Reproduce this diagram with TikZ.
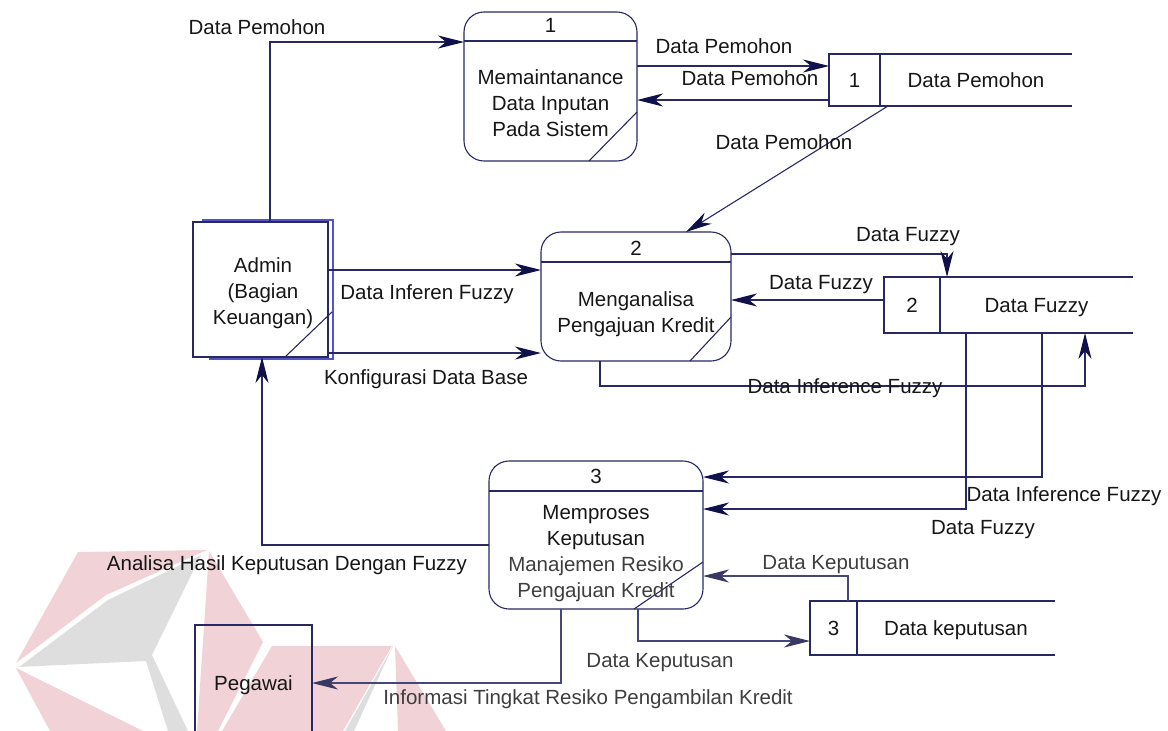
\documentclass[tikz,border=0pt]{standalone}
\usepackage{fontspec}
\setmainfont{Liberation Sans}
\usetikzlibrary{arrows.meta,calc}
\definecolor{dfdline}{RGB}{40,40,100}
\definecolor{dfdsoft}{RGB}{70,70,122}
\definecolor{dfdhead}{RGB}{16,16,74}
\definecolor{shadowblue}{RGB}{84,84,196}
\definecolor{txt}{RGB}{22,22,22}
\definecolor{txtsoft}{RGB}{62,62,62}
\definecolor{logopink}{RGB}{241,210,215}
\definecolor{logogray}{RGB}{222,222,222}
\begin{document}
\begin{tikzpicture}[x=1pt,y=-1pt,
  every node/.style={font=\fontsize{20.5}{26}\selectfont, text=txt, inner sep=0pt, outer sep=0pt},
  lbl/.style={text height=15pt, text depth=0pt},
  edge/.style={draw=dfdline, line width=1.1pt},
  proc/.style={edge, rounded corners=20pt},
  ent/.style={edge},
  sid/.style={edge, lbl},
  sname/.style={lbl},
  shadowline/.style={draw=shadowblue, line width=1.1pt},
  flow/.style={edge, -{Stealth[length=26pt,width=13pt,inset=8pt,color=dfdhead]}},
  softflow/.style={draw=dfdsoft, line width=1.1pt, -{Stealth[length=26pt,width=13pt,inset=8pt,color=dfdsoft!80!black]}}
]
\useasboundingbox (0,0) rectangle (1168,731);
\clip (0,0) rectangle (1168,731);

% faint logo in the background
\fill[logopink] (16,663) -- (78,552) -- (207,550) -- (106,595) -- cycle;
\fill[logopink] (209,551) -- (263,642) -- (218,731) -- (197,731) -- cycle;
\fill[logopink] (16,668) -- (50,731) -- (143,731) -- cycle;
\fill[logogray] (19,667) -- (108,600) -- (201,555) -- (152,655) -- (188,731) -- (168,731) -- (146,661) -- cycle;
\fill[logopink] (272,646) -- (392,646) -- (343,731) -- (222,731) -- cycle;
\fill[logogray] (393,646) -- (345,731) -- (354,731) -- cycle;
\fill[logopink] (395,646) -- (398,731) -- (446,731) -- cycle;

% processes
\node[proc, minimum width=173pt, minimum height=149pt] (p1) at (550.5,86.5) {};
\node[proc, minimum width=190pt, minimum height=129pt] (p2) at (636,296.5) {};
\node[proc, minimum width=214pt, minimum height=148pt] (p3) at (596,535) {};
\draw[edge] ($(p1.north west)+(0,29)$) -- ($(p1.north east)+(0,29)$);
\draw[edge] ($(p2.north west)+(0,30)$) -- ($(p2.north east)+(0,30)$);
\draw[edge] ($(p3.north west)+(0,30)$) -- ($(p3.north east)+(0,30)$);
\draw[edge] ($(p1.south east)+(0,-49)$) -- ($(p1.south east)+(-48,0)$);
\draw[edge] ($(p2.south east)+(0,-44)$) -- ($(p2.south east)+(-41,0)$);
\draw[edge] ($(p3.south east)+(0,-47)$) -- ($(p3.south east)+(-69,0)$);
\node[lbl] (p1num) at (550.5,25) {1};
\node[lbl] (p2num) at (636,248) {2};
\node[lbl] (p3num) at (596,476) {3};
\node[align=center] (p1txt) at (550.5,103) {Memaintanance\\Data Inputan\\Pada Sistem};
\node[align=center] (p2txt) at (636,314.5) {Menganalisa\\Pengajuan Kredit};
\node[align=center] (p3txt) at (596,553.5) {Memproses\\Keputusan\\\textcolor{txtsoft}{Manajemen Resiko}\\\textcolor{txtsoft}{Pengajuan Kredit}};

% external entities
\draw[shadowline] (202,220) -- (333,220) -- (333,359) -- (209,359);
\node[ent, minimum width=135pt, minimum height=135pt] (adm) at (260.5,289.5) {};
\draw[edge] ($(adm.south east)+(4,-45)$) -- ($(adm.south east)+(-43,0)$);
\node[align=center] (admtxt) at (263,293) {Admin\\(Bagian\\Keuangan)};
\node[ent, lbl, minimum width=117pt, minimum height=116pt] (peg) at (253.5,683) {Pegawai};

% data stores
\node[sid, minimum width=51pt, minimum height=52pt] (s1) at (854.5,80) {1};
\node[sname, minimum width=192pt, minimum height=52pt] (s1n) at (976,80) {Data Pemohon};
\draw[edge] (s1.north east) -- (s1n.north east);
\draw[edge] (s1.south east) -- (s1n.south east);
\node[sid, minimum width=56pt, minimum height=56pt] (s2) at (912,305) {2};
\node[sname, minimum width=193pt, minimum height=56pt] (s2n) at (1036.5,305) {Data Fuzzy};
\draw[edge] (s2.north east) -- (s2n.north east);
\draw[edge] (s2.south east) -- (s2n.south east);
\node[sid, minimum width=47pt, minimum height=54pt] (s3) at (833.5,628) {3};
\node[sname, minimum width=198pt, minimum height=54pt] (s3n) at (956,628) {Data keputusan};
\draw[edge] (s3.north east) -- (s3n.north east);
\draw[edge] (s3.south east) -- (s3n.south east);

% data flows
\coordinate (wA) at (270,42);
\draw[flow] (adm.north -| wA) |- (p1.west |- wA);
\coordinate (wB) at (0,66);
\draw[flow] (p1.east |- wB) -- (s1.west |- wB);
\coordinate (wC) at (0,100);
\draw[flow] (s1.west |- wC) -- (p1.east |- wC);
\coordinate (wD1) at (888,0);
\coordinate (wD2) at (686,0);
\draw[flow] (s1n.south -| wD1) -- (p2.north -| wD2);
\coordinate (wE) at (0,270);
\draw[flow] (adm.east |- wE) -- (p2.west |- wE);
\coordinate (wF) at (0,353);
\draw[flow] (adm.east |- wF) -- (p2.west |- wF);
\coordinate (wG) at (947,254);
\draw[flow] (p2.east |- wG) -| (s2n.north -| wG);
\coordinate (wH) at (0,300);
\draw[flow] (s2.west |- wH) -- (p2.east |- wH);
\coordinate (wI1) at (600,386);
\coordinate (wI2) at (1085,386);
\draw[flow] (p2.south -| wI1) |- (wI2) -- (s2n.south -| wI2);
\coordinate (wJ) at (1042,477);
\draw[flow] (s2n.south -| wJ) |- (p3.east |- wJ);
\coordinate (wK) at (966,509);
\draw[flow] (s2n.south -| wK) |- (p3.east |- wK);
\coordinate (wL) at (262,545);
\draw[flow] (p3.west |- wL) -| (adm.south -| wL);
\coordinate (wM) at (848,576);
\draw[softflow] (s3.north -| wM) |- (p3.east |- wM);
\coordinate (wN) at (638,641);
\draw[softflow] (p3.south -| wN) |- (s3.west |- wN);
\coordinate (wO) at (561,683);
\draw[softflow] (p3.south -| wO) |- (peg.east |- wO);

% flow labels
\node[lbl] (lA) at (257,27) {Data Pemohon};
\node[lbl] (lB) at (724,46) {Data Pemohon};
\node[lbl] (lC) at (750,78) {Data Pemohon};
\node[lbl] (lD) at (784,142) {Data Pemohon};
\node[lbl] (lE) at (427,292) {Data Inferen Fuzzy};
\node[lbl] (lF) at (426,377) {Konfigurasi Data Base};
\node[lbl] (lG) at (908,234) {Data Fuzzy};
\node[lbl] (lH) at (821,282) {Data Fuzzy};
\node[lbl] (lI) at (845,386) {Data Inference Fuzzy};
\node[lbl] (lJ) at (1064,494) {Data Inference Fuzzy};
\node[lbl] (lK) at (983,527) {Data Fuzzy};
\node[lbl] (lL) at (287,563) {Analisa Hasil Keputusan Dengan Fuzzy};
\node[lbl, text=txtsoft] (lM) at (836,562) {Data Keputusan};
\node[lbl, text=txtsoft] (lN) at (660,660) {Data Keputusan};
\node[lbl, text=txtsoft] (lO) at (588,697) {Informasi Tingkat Resiko Pengambilan Kredit};
\end{tikzpicture}
\end{document}
